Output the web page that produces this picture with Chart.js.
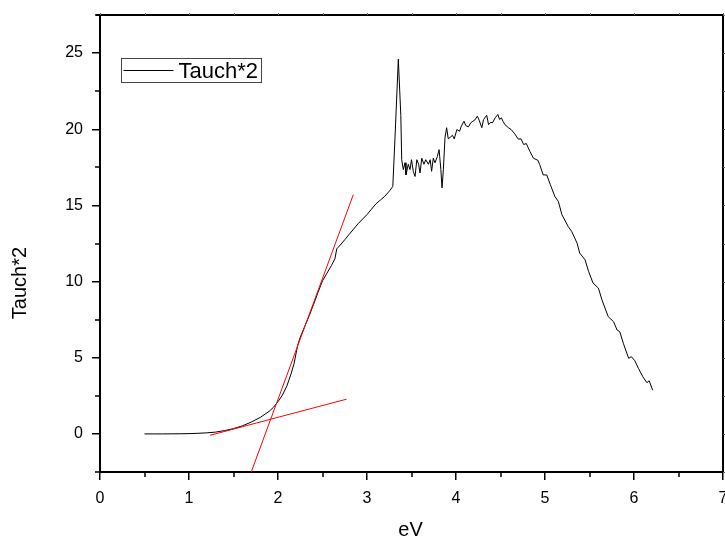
<!DOCTYPE html>
<html>
<head>
<meta charset="utf-8">
<script src="https://cdn.jsdelivr.net/npm/chart.js@4.4.0/dist/chart.umd.min.js"></script>
<style>
    body { margin: 0; background: #fff; }
    canvas { display: block; }
</style>
</head>
<body>
<canvas id="myChart" width="725" height="541"></canvas>
<script>
// Tauch*2 vs photon energy
const eV = [
    0.50, 0.60, 0.70, 0.80, 0.90, 1.00, 1.10, 1.20, 1.30, 1.40,
    1.50, 1.60, 1.70, 1.80, 1.90, 1.95, 2.00, 2.05, 2.10, 2.15,
    2.18, 2.22, 2.25, 2.30, 2.35, 2.40, 2.45, 2.50, 2.55, 2.60,
    2.64, 2.66, 2.70, 2.75, 2.80, 2.85, 2.90, 2.95, 3.00, 3.05,
    3.10, 3.15, 3.20, 3.26, 3.29, 3.315, 3.352, 3.38, 3.39, 3.408,
    3.427, 3.438, 3.464, 3.483, 3.50, 3.52, 3.54, 3.56, 3.58, 3.596,
    3.615, 3.64, 3.66, 3.69, 3.71, 3.726, 3.745, 3.764, 3.79, 3.81,
    3.83, 3.843, 3.858, 3.876, 3.895, 3.913, 3.94, 3.96, 3.98, 4.01,
    4.04, 4.06, 4.09, 4.11, 4.14, 4.165, 4.19, 4.21, 4.24, 4.26,
    4.29, 4.31, 4.345, 4.366, 4.39, 4.41, 4.44, 4.47, 4.49, 4.51,
    4.53, 4.55, 4.59, 4.62, 4.66, 4.70, 4.73, 4.76, 4.79, 4.83,
    4.87, 4.92, 4.94, 4.98, 5.02, 5.06, 5.11, 5.15, 5.19, 5.26,
    5.30, 5.36, 5.39, 5.45, 5.49, 5.54, 5.60, 5.64, 5.71, 5.77,
    5.81, 5.84, 5.88, 5.94, 5.97, 6.01, 6.05, 6.10, 6.145, 6.17,
    6.21
];
const tauch = [
    0, 0, 0, 0.005, 0.01, 0.02, 0.04, 0.07, 0.12, 0.22,
    0.35, 0.53, 0.78, 1.08, 1.48, 1.75, 2.12, 2.55, 3.15, 4.0,
    4.6, 5.8, 6.35, 7.05, 7.75, 8.5, 9.3, 10.05, 10.55, 11.05,
    11.5, 12.15, 12.4, 12.75, 13.1, 13.45, 13.8, 14.1, 14.4, 14.75,
    15.1, 15.35, 15.6, 16.0, 16.25, 19.5, 24.6, 20.9, 18.0, 17.35,
    17.8, 17.0, 17.7, 17.35, 18.0, 17.24, 16.9, 18.0, 17.7, 17.13,
    18.1, 17.7, 18.0, 17.7, 18.0, 17.24, 18.1, 17.8, 18.2, 18.66,
    17.35, 16.15, 17.35, 19.43, 20.1, 19.37, 19.5, 19.6, 19.37, 19.98,
    19.87, 20.2, 20.53, 20.24, 20.16, 20.42, 20.53, 20.6, 20.86, 20.6,
    20.1, 20.64, 20.92, 20.3, 20.46, 20.42, 20.75, 20.97, 20.64, 20.75,
    20.5, 20.3, 20.1, 19.98, 19.7, 19.35, 19.37, 19.0, 19.06, 18.55,
    18.1, 17.96, 17.68, 17.0, 17.0, 16.36, 15.6, 15.26, 14.39, 13.62,
    13.29, 12.53, 11.87, 11.43, 10.66, 9.9, 9.57, 8.8, 7.7, 7.37,
    6.82, 6.71, 5.95, 4.96, 5.07, 4.8, 4.3, 3.75, 3.36, 3.49,
    2.87
];

// Red tangent lines (end points)
const steepX = [1.685, 2.846];
const steepY = [-2.73, 15.7];
const baseX = [1.236, 2.77];
const baseY = [-0.09, 2.28];

// Axis ticks
const xTicks = [0, 1, 2, 3, 4, 5, 6, 7];
const xMinor = [0.5, 1.5, 2.5, 3.5, 4.5, 5.5, 6.5];
const yTicks = [0, 5, 10, 15, 20, 25];
const yMinor = [-2.5, 2.5, 7.5, 12.5, 17.5, 22.5, 27.5];

const FONT = "'Liberation Sans', Arial, sans-serif";

function toPoints(xs, ys) {
    return xs.map((x, i) => ({ x: x, y: ys[i] }));
}

// Frame, minor ticks, axis titles and the legend box
const framePlugin = {
    id: 'frame',
    afterDraw(chart) {
        const ctx = chart.ctx;
        const a = chart.chartArea;
        const xs = chart.scales.x;
        const ys = chart.scales.y;
        ctx.save();
        ctx.strokeStyle = '#000';

        // top and right border
        ctx.lineWidth = 2;
        ctx.beginPath();
        ctx.moveTo(a.left - 4, a.top);
        ctx.lineTo(a.right, a.top);
        ctx.lineTo(a.right, a.bottom);
        ctx.stroke();

        // minor ticks
        ctx.lineWidth = 1.5;
        ctx.beginPath();
        xMinor.forEach(v => {
            const px = Math.round(xs.getPixelForValue(v));
            ctx.moveTo(px, a.bottom);
            ctx.lineTo(px, a.bottom + 5);
        });
        yMinor.forEach(v => {
            const py = Math.round(ys.getPixelForValue(v));
            ctx.moveTo(a.left, py);
            ctx.lineTo(a.left - 5, py);
        });
        ctx.stroke();

        // tiny ticks on top and right
        ctx.lineWidth = 1;
        ctx.strokeStyle = '#666';
        ctx.beginPath();
        xTicks.concat(xMinor).forEach(v => {
            const px = Math.round(xs.getPixelForValue(v)) + 0.5;
            ctx.moveTo(px, a.top);
            ctx.lineTo(px, a.top - 2);
        });
        yTicks.concat(yMinor).forEach(v => {
            const py = Math.round(ys.getPixelForValue(v)) + 0.5;
            ctx.moveTo(a.right, py);
            ctx.lineTo(a.right + 2, py);
        });
        ctx.stroke();

        // axis titles
        ctx.fillStyle = '#000';
        ctx.font = '20px ' + FONT;
        ctx.textAlign = 'center';
        ctx.textBaseline = 'middle';
        ctx.fillText('eV', (a.left + a.right) / 2 - 1, 530);
        ctx.save();
        ctx.translate(20, 283);
        ctx.rotate(-Math.PI / 2);
        ctx.fillText('Tauch*2', 0, 0);
        ctx.restore();

        // legend
        const lx = 121.5, ly = 58.5, lw = 140, lh = 24;
        ctx.strokeStyle = '#444';
        ctx.lineWidth = 1;
        ctx.strokeRect(lx, ly, lw, lh);
        ctx.strokeStyle = '#000';
        ctx.beginPath();
        ctx.moveTo(lx + 2, ly + 12);
        ctx.lineTo(lx + 52, ly + 12);
        ctx.stroke();
        ctx.font = '22px ' + FONT;
        ctx.textAlign = 'left';
        ctx.fillText(chart.data.datasets[2].label, lx + 57, ly + 13);
        ctx.restore();
    }
};

const ctx = document.getElementById('myChart').getContext('2d');
new Chart(ctx, {
    type: 'scatter',
    data: {
        datasets: [
            {
                label: 'fit1',
                data: toPoints(steepX, steepY),
                showLine: true,
                borderColor: '#ff0000',
                borderWidth: 1,
                pointRadius: 0
            },
            {
                label: 'fit2',
                data: toPoints(baseX, baseY),
                showLine: true,
                borderColor: '#ff0000',
                borderWidth: 1,
                pointRadius: 0
            },
            {
                label: 'Tauch*2',
                data: toPoints(eV, tauch),
                showLine: true,
                borderColor: '#000',
                borderWidth: 1,
                pointRadius: 0,
                tension: 0
            }
        ]
    },
    options: {
        responsive: false,
        animation: false,
        layout: {
            padding: { top: 15, right: 2, left: 0, bottom: 0 }
        },
        plugins: {
            legend: { display: false },
            tooltip: { enabled: false }
        },
        scales: {
            x: {
                type: 'linear',
                min: 0,
                max: 7,
                afterBuildTicks: s => { s.ticks = xTicks.map(v => ({ value: v })); },
                afterFit: s => { s.height = 69; s.paddingLeft = 0; s.paddingRight = 0; },
                border: { display: true, color: '#000', width: 2 },
                grid: {
                    drawOnChartArea: false,
                    drawTicks: true,
                    tickLength: 8,
                    color: '#000',
                    lineWidth: 1.5
                },
                ticks: {
                    color: '#000',
                    font: { family: FONT, size: 16 },
                    padding: 9,
                    maxRotation: 0
                }
            },
            y: {
                type: 'linear',
                min: -2.5,
                max: 27.5,
                afterBuildTicks: s => { s.ticks = yTicks.map(v => ({ value: v })); },
                afterFit: s => { s.width = 100; s.paddingTop = 0; s.paddingBottom = 0; },
                border: { display: true, color: '#000', width: 2 },
                grid: {
                    drawOnChartArea: false,
                    drawTicks: true,
                    tickLength: 8,
                    color: '#000',
                    lineWidth: 1.5
                },
                ticks: {
                    color: '#000',
                    font: { family: FONT, size: 16 },
                    padding: 9
                }
            }
        }
    },
    plugins: [framePlugin]
});
</script>
</body>
</html>
